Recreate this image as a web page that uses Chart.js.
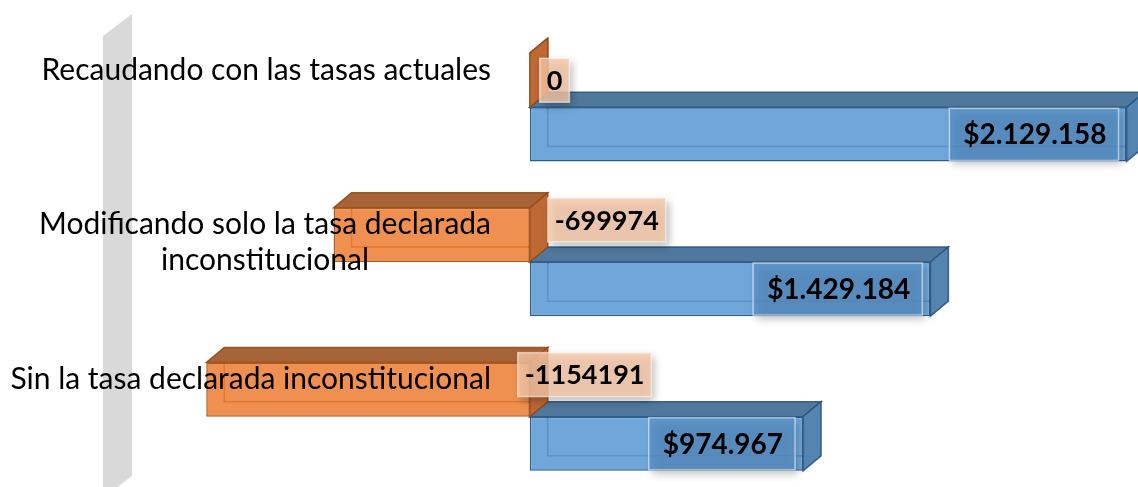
<!DOCTYPE html>
<html>
<head>
<meta charset="utf-8">
<script src="https://cdn.jsdelivr.net/npm/chart.js@4.4.0/dist/chart.umd.min.js"></script>
<style>
  html, body { margin: 0; padding: 0; background: #fff; overflow: hidden; }
  #wrap { width: 1138px; height: 494px; position: relative; }
</style>
</head>
<body>
<div id="wrap"><canvas id="barChart"></canvas></div>
<script>
// data
var categories = [
    ['Recaudando con las tasas actuales'],
    ['Modificando solo la tasa declarada', 'inconstitucional'],
    ['Sin la tasa declarada inconstitucional']
];
var diferencia = [0, -699974, -1154191];
var recaudacion = [2129158, 1429184, 974967];

var DX = 18, DY = 15; // 3d depth

function puntos(v) {
    return String(v).replace(/\B(?=(\d{3})+(?!\d))/g, '.');
}

var faces = [
    { top: 'rgb(166,100,56)', side: 'rgb(190,104,52)', edge: 'rgba(150,75,20,0.9)' },
    { top: 'rgb(80,120,156)', side: 'rgb(86,132,176)', edge: 'rgba(40,85,130,0.9)' }
];

var threeD = {
    id: 'threeD',
    beforeDatasetsDraw: function (chart) {
        var ctx = chart.ctx;
        var area = chart.chartArea;
        // grey wall on the left
        ctx.save();
        ctx.fillStyle = 'rgb(217,217,217)';
        ctx.beginPath();
        ctx.moveTo(103, area.top + 6);
        ctx.lineTo(132, area.top - 16);
        ctx.lineTo(132, area.bottom - 18);
        ctx.lineTo(103, area.bottom + 4);
        ctx.closePath();
        ctx.fill();
        ctx.restore();

        [1, 0].forEach(function (di) {
            var f = faces[di];
            chart.getDatasetMeta(di).data.forEach(function (bar) {
                var p = bar.getProps(['x', 'y', 'base', 'height'], true);
                var l = Math.min(p.x, p.base), r = Math.max(p.x, p.base);
                var t = p.y - p.height / 2, b = p.y + p.height / 2;
                ctx.save();
                ctx.lineWidth = 1.5;
                ctx.strokeStyle = f.edge;
                // back edges seen through
                ctx.beginPath();
                ctx.moveTo(l + DX, t - DY);
                ctx.lineTo(l + DX, b - DY);
                ctx.lineTo(r + DX, b - DY);
                ctx.stroke();
                // top face
                ctx.fillStyle = f.top;
                ctx.beginPath();
                ctx.moveTo(l, t);
                ctx.lineTo(l + DX, t - DY);
                ctx.lineTo(r + DX, t - DY);
                ctx.lineTo(r, t);
                ctx.closePath();
                ctx.fill();
                ctx.stroke();
                // side face
                ctx.fillStyle = f.side;
                ctx.beginPath();
                ctx.moveTo(r, t);
                ctx.lineTo(r + DX, t - DY);
                ctx.lineTo(r + DX, b - DY);
                ctx.lineTo(r, b);
                ctx.closePath();
                ctx.fill();
                ctx.stroke();
                ctx.restore();
            });
        });
    },
    afterDatasetsDraw: function (chart) {
        var ctx = chart.ctx;
        var yScale = chart.scales.y;
        var step = yScale.height / categories.length;

        // category labels
        ctx.save();
        ctx.fillStyle = '#000';
        ctx.font = '30px Lato';
        ctx.textBaseline = 'middle';
        ctx.textAlign = 'center';
        categories.forEach(function (lines, i) {
            var catTop = yScale.getPixelForValue(i) - step / 2;
            var widest = Math.max.apply(null, lines.map(function (s) { return ctx.measureText(s).width; }));
            var cx = 491 - widest / 2;
            lines.forEach(function (s, k) {
                ctx.fillText(s, cx, catTop + 40 + k * 36);
            });
        });
        ctx.restore();

        // value labels
        function box(x, y, w, h, fill) {
            ctx.save();
            ctx.shadowColor = 'rgba(0,0,0,0.35)';
            ctx.shadowBlur = 8;
            ctx.shadowOffsetX = 3;
            ctx.shadowOffsetY = 4;
            ctx.fillStyle = fill;
            ctx.fillRect(x, y, w, h);
            ctx.restore();
            ctx.save();
            ctx.strokeStyle = 'rgba(255,255,255,0.55)';
            ctx.lineWidth = 1.5;
            ctx.strokeRect(x, y, w, h);
            ctx.restore();
        }

        ctx.save();
        ctx.font = 'bold 27px Lato';
        ctx.textBaseline = 'middle';
        ctx.textAlign = 'left';
        var shiftX = [10, 18, -12];
        chart.getDatasetMeta(0).data.forEach(function (bar, i) {
            var p = bar.getProps(['x', 'y', 'base', 'height'], true);
            var txt = String(diferencia[i]);
            var w = ctx.measureText(txt).width + 14;
            var bx = p.base + shiftX[i];
            var cy = p.y - (i === 0 ? 0 : 15);
            box(bx, cy - 22, w, 44, 'rgba(248,200,168,0.8)');
            ctx.fillStyle = '#000';
            ctx.fillText(txt, bx + 7, cy + 1);
        });
        ctx.font = 'bold 28px Lato';
        chart.getDatasetMeta(1).data.forEach(function (bar, i) {
            var p = bar.getProps(['x', 'y', 'base', 'height'], true);
            var txt = '$' + puntos(recaudacion[i]);
            var w = ctx.measureText(txt).width + 26;
            var bx = p.x - 8 - w;
            box(bx, p.y - p.height / 2 + 1, w, p.height - 2, 'rgba(88,145,200,0.7)');
            ctx.fillStyle = '#000';
            ctx.fillText(txt, bx + 14, p.y + 1);
        });
        ctx.restore();
    }
};

var ctx = document.getElementById('barChart').getContext('2d');
var barChart = new Chart(ctx, {
    type: 'bar',
    data: {
        labels: categories,
        datasets: [{
            data: diferencia,
            backgroundColor: 'rgba(237,125,49,0.85)',
            borderColor: 'rgb(174,90,33)',
            borderWidth: 1.5,
            borderSkipped: false
        }, {
            data: recaudacion,
            backgroundColor: 'rgba(91,155,213,0.88)',
            borderColor: 'rgb(46,94,140)',
            borderWidth: 1.5,
            borderSkipped: false
        }]
    },
    options: {
        indexAxis: 'y',
        responsive: true,
        maintainAspectRatio: false,
        animation: false,
        layout: { padding: { top: 30, bottom: 0, left: 0, right: 0 } },
        categoryPercentage: 0.70,
        barPercentage: 1,
        scales: {
            x: { display: false, min: -1890000, max: 2170000 },
            y: { display: false }
        },
        plugins: {
            legend: { display: false },
            tooltip: { enabled: false }
        }
    },
    plugins: [threeD]
});
</script>
</body>
</html>
